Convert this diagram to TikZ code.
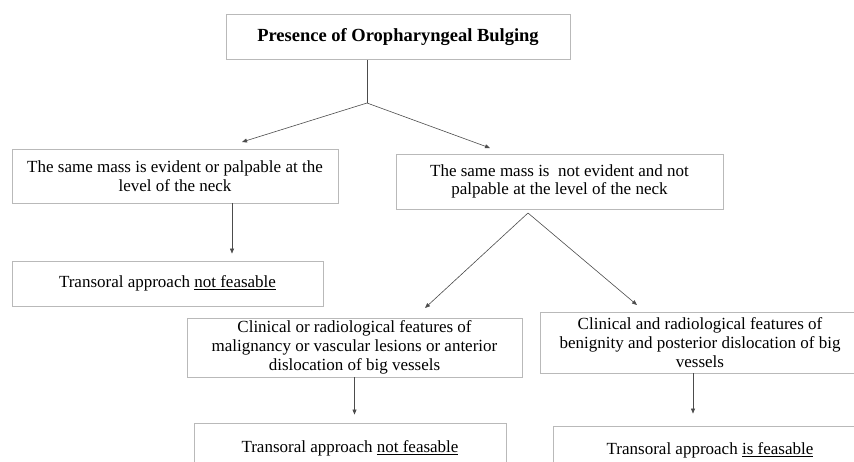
\documentclass[tikz,border=0pt]{standalone}
\usepackage{fontspec}
\setmainfont{Liberation Serif}
\usetikzlibrary{arrows.meta}

\begin{document}
\begin{tikzpicture}[x=1pt,y=-1pt,
  box/.style={draw=gray!55, line width=0.9pt, align=center, inner sep=0pt, font=\fontsize{17}{18.8}\selectfont},
  link/.style={draw=black!70, line width=0.6pt},
  arr/.style={link, -{Triangle[length=5pt,width=4pt]}}]
\clip (0,0) rectangle (854,461);
\fill[white] (0,0) rectangle (854,461);

\node[box, minimum width=344pt, minimum height=45pt, font=\fontsize{18.5}{20}\selectfont\bfseries] (top) at (398,37) {Presence of Oropharyngeal Bulging};

\node[box, minimum width=326pt, minimum height=54pt] (same1) at (175,176) {The same mass is evident or palpable at the\\level of the neck};
\node[box, minimum width=327pt, minimum height=55pt] (same2) at (559.5,181.5) {The same mass is~ not evident and not\\palpable at the level of the neck};

\node[box, minimum width=311pt, minimum height=45pt] (nofeas1) at (167.5,283.5) {Transoral approach \underline{not feasable}};

\node[box, minimum width=335pt, minimum height=59pt] (clinmal) at (354.5,347.5) {Clinical or radiological features of\\malignancy or vascular lesions or anterior\\dislocation of big vessels};
\node[box, minimum width=320pt, minimum height=61pt] (clinben) at (700,342.5) {Clinical and radiological features of\\benignity and posterior dislocation of big\\vessels};

\node[box, minimum width=312pt, minimum height=72pt, text depth=24pt] (nofeas2) at (350,459) {Transoral approach \underline{not feasable}};
\node[box, minimum width=314pt, minimum height=70pt, text depth=24pt] (isfeas) at (710,461) {Transoral approach \underline{is feasable}};

% branching points
\coordinate (split1) at (367,103);
\coordinate (tipL1) at (242,142);
\coordinate (tipR1) at (490,148);
\coordinate (split2) at (528,213);
\coordinate (tipL2) at (425,308);
\coordinate (tipR2) at (637,305);

\draw[link] (split1 |- top.south) -- (split1);
\draw[arr] (split1) -- (tipL1);
\draw[arr] (split1) -- (tipR1);

\draw[arr, shorten >=7pt] ([xshift=57pt]same1.south) -- ([xshift=57pt]same1.south |- nofeas1.north);

\draw[arr] (split2) -- (tipL2);
\draw[arr] (split2) -- (tipR2);

\draw[arr, shorten >=8pt] (clinmal.south) -- (clinmal.south |- nofeas2.north);
\draw[arr, shorten >=12pt] ([xshift=-7pt]clinben.south) -- ([xshift=-7pt]clinben.south |- isfeas.north);
\end{tikzpicture}
\end{document}
